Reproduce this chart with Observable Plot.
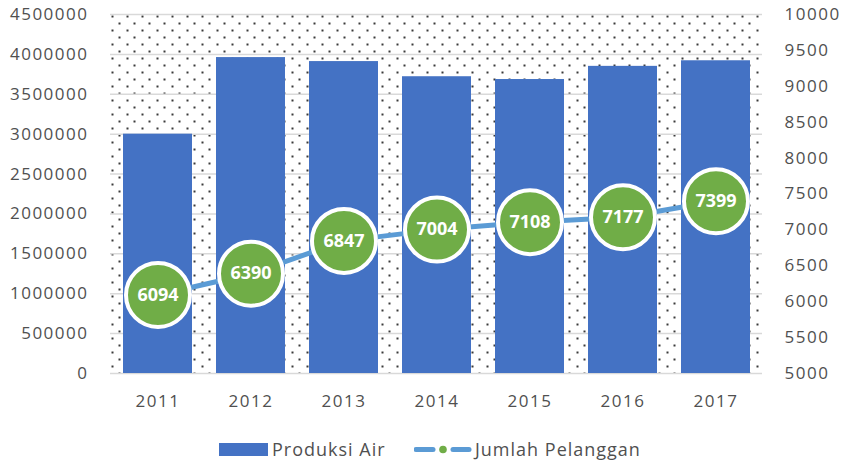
<!DOCTYPE html>
<html>
<head>
<meta charset="utf-8">
<script src="https://cdn.jsdelivr.net/npm/d3@7"></script>
<script src="https://cdn.jsdelivr.net/npm/@observablehq/plot@0.6"></script>
<style>
  body { margin: 0; background: #fff; width: 849px; height: 462px; overflow: hidden; position: relative; font-family: "Open Sans", sans-serif; }
  #chart svg g[aria-label$="tick label"] text { letter-spacing: 1.5px; }
  .legend { position: absolute; top: 437px; left: 0; width: 849px; height: 25px; font-size: 18px; color: #505050; letter-spacing: 1px; }
  .legend span { position: absolute; top: 0; line-height: 25px; white-space: nowrap; }
</style>
</head>
<body>
<div id="chart"></div>
<div class="legend">
  <svg style="position:absolute;left:219px;top:6px" width="49" height="13"><rect width="49" height="13" fill="#4472C4"></rect></svg>
  <span style="left:272px">Produksi Air</span>
  <svg style="position:absolute;left:414px;top:6px" width="58" height="13">
    <line x1="2" y1="6.5" x2="19" y2="6.5" stroke="#5B9BD5" stroke-width="5" stroke-linecap="round"></line>
    <circle cx="29" cy="6.5" r="3.8" fill="#70AD47"></circle>
    <line x1="39" y1="6.5" x2="55" y2="6.5" stroke="#5B9BD5" stroke-width="5" stroke-linecap="round"></line>
  </svg>
  <span style="left:475px">Jumlah Pelanggan</span>
</div>
<script>
const years = ["2011", "2012", "2013", "2014", "2015", "2016", "2017"];
const produksiAir = [3000000, 3960000, 3910000, 3720000, 3685000, 3850000, 3920000];
const jumlahPelanggan = [6094, 6390, 6847, 7004, 7108, 7177, 7399];
const leftTicks = [0, 500000, 1000000, 1500000, 2000000, 2500000, 3000000, 3500000, 4000000, 4500000];
const rightTicks = [5000, 5500, 6000, 6500, 7000, 7500, 8000, 8500, 9000, 9500, 10000];

const leftMax = 4500000, rightMin = 5000, rightMax = 10000;
const toLeft = v => (v - rightMin) / (rightMax - rightMin) * leftMax;
const fromLeft = v => rightMin + v / leftMax * (rightMax - rightMin);

const rows = years.map((y, i) => ({ year: y, air: produksiAir[i], pel: jumlahPelanggan[i] }));

const plot = Plot.plot({
  width: 849,
  height: 425,
  marginLeft: 110,
  marginRight: 87,
  marginTop: 14,
  marginBottom: 52,
  style: { fontFamily: "Open Sans", fontSize: "17px", color: "#505050", background: "white", overflow: "visible" },
  x: { domain: years, paddingInner: 0.26, paddingOuter: 0.13, label: null },
  y: { domain: [0, leftMax], label: null },
  marks: [
    Plot.frame({ fill: "#fffffe", stroke: null }),
    Plot.ruleY(leftTicks, { stroke: "#d9d9d9", strokeWidth: 1.5 }),
    Plot.barY(rows, { x: "year", y: "air", fill: "#4472C4" }),
    Plot.line(rows, { x: "year", y: d => toLeft(d.pel), stroke: "#5B9BD5", strokeWidth: 5 }),
    Plot.dot(rows, { x: "year", y: d => toLeft(d.pel), r: 32, fill: "#70AD47", stroke: "white", strokeWidth: 4 }),
    Plot.text(rows, { x: "year", y: d => toLeft(d.pel), text: d => String(d.pel), fill: "white", fontWeight: "bold", fontSize: 18 }),
    Plot.axisY(leftTicks, { anchor: "left", tickSize: 0, tickPadding: 22, tickFormat: d => String(d), fill: "#505050" }),
    Plot.axisY(rightTicks.map(toLeft), { anchor: "right", tickSize: 0, tickPadding: 22, tickFormat: d => String(Math.round(fromLeft(d))), fill: "#505050" }),
    Plot.axisX({ anchor: "bottom", tickSize: 0, tickPadding: 21, fill: "#505050" })
  ]
});

// dotted pattern background
const svg = d3.select(plot);
const defs = svg.insert("defs", ":first-child");
const pat = defs.append("pattern")
  .attr("id", "dotpat")
  .attr("patternUnits", "userSpaceOnUse")
  .attr("x", 110).attr("y", 14)
  .attr("width", 15).attr("height", 14);
pat.append("rect").attr("width", 15).attr("height", 14).attr("fill", "white");
pat.append("rect").attr("x", 1).attr("y", 1).attr("width", 2).attr("height", 2).attr("fill", "#3a3a3a");
pat.append("rect").attr("x", 8).attr("y", 8).attr("width", 2).attr("height", 2).attr("fill", "#3a3a3a");
svg.selectAll('[fill="#fffffe"]').attr("fill", "url(#dotpat)");

document.getElementById("chart").appendChild(plot);
</script>
</body>
</html>
